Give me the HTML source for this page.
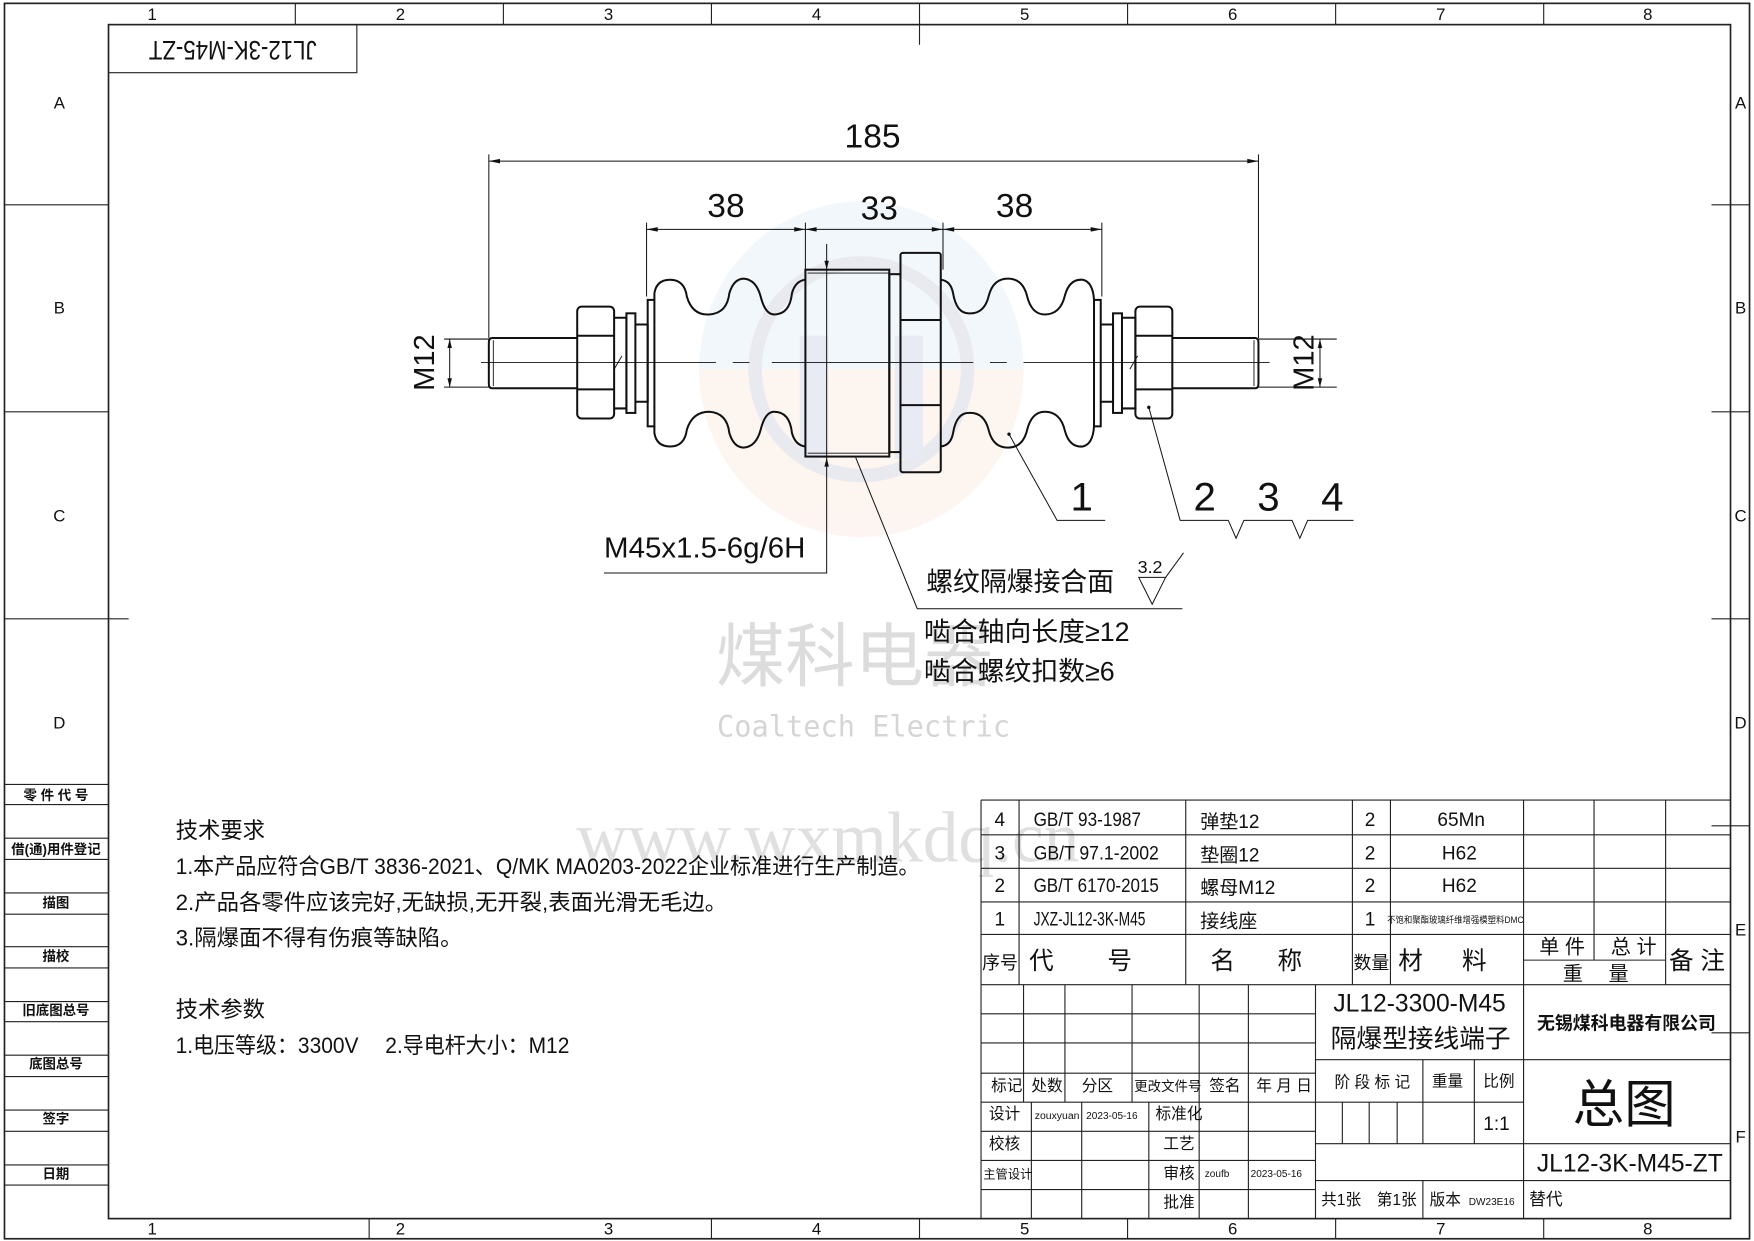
<!DOCTYPE html>
<html><head><meta charset="utf-8"><style>
html,body{margin:0;padding:0;background:#fff}
svg{display:block}
text{font-family:"Liberation Sans Narrow","Liberation Sans","Noto Sans CJK SC",sans-serif;fill:#111}
.t{font-family:"Liberation Sans Narrow","Liberation Sans","Noto Sans CJK SC",sans-serif}
</style></head><body>
<svg width="1754" height="1241" viewBox="0 0 1568 1109" preserveAspectRatio="none" xmlns="http://www.w3.org/2000/svg">
<rect width="1568" height="1109" fill="#fff"/>
<!-- watermark logo -->
<g opacity="0.22">
<path d="M625 330 A145 150 0 0 1 915 330 Z" fill="#c9dcef"/>
<path d="M625 330 A145 150 0 0 0 915 330 Z" fill="#f6d3bd"/>
<circle cx="770" cy="330" r="95" fill="none" stroke="#9aa3b8" stroke-width="12"/>
<rect x="715" y="300" width="25" height="110" fill="#9aa8cc"/><rect x="800" y="300" width="25" height="110" fill="#9aa8cc"/>
</g>
<text x="640" y="608" font-size="62" style="fill:#dcdcdc">煤科电器</text>
<text x="641" y="658" font-size="26" style="fill:#d5d5d5;font-family:'DejaVu Sans Mono',monospace" textLength="262" lengthAdjust="spacingAndGlyphs">Coaltech Electric</text>
<text x="515" y="770" font-size="64" style="fill:#e0e0e0;font-family:'Liberation Serif',serif" textLength="450" lengthAdjust="spacingAndGlyphs">www.wxmkdq.cn</text>

<g stroke="#222" fill="none" stroke-width="1">
<rect x="4" y="3" width="1560" height="1104" stroke-width="1.5"/>
<rect x="97" y="22" width="1450" height="1067" stroke-width="1.5"/>
<path d="M264 3V22M450 3V22M636 3V22M822 3V40M1008 3V22M1194 3V22M1380 3V22"/>
<path d="M330 1089V1107M636 1089V1107M822 1089V1107M1008 1089V1107M1194 1089V1107M1380 1089V1107"/>
<path d="M4 183H97M4 368H97M4 553H115M1530 183H1564M1530 368H1564M1530 553H1564M1530 738H1564M1530 923H1564"/>
<path d="M4 701H97M4 719H97M4 749H97M4 768H97M4 798H97M4 817H97M4 846H97M4 865H97M4 895H97M4 913H97M4 943H97M4 962H97M4 992H97M4 1011H97M4 1041H97M4 1059H97"/>
<path d="M97 65H319V22"/>
</g>
<g font-size="15" text-anchor="middle" class="t">
<text x="136" y="18">1</text><text x="358" y="18">2</text><text x="544" y="18">3</text><text x="730" y="18">4</text><text x="916" y="18">5</text><text x="1102" y="18">6</text><text x="1288" y="18">7</text><text x="1473" y="18">8</text>
<text x="136" y="1103">1</text><text x="358" y="1103">2</text><text x="544" y="1103">3</text><text x="730" y="1103">4</text><text x="916" y="1103">5</text><text x="1102" y="1103">6</text><text x="1288" y="1103">7</text><text x="1473" y="1103">8</text>
<text x="53" y="97">A</text><text x="53" y="280">B</text><text x="53" y="466">C</text><text x="53" y="651">D</text>
<text x="1556" y="97">A</text><text x="1556" y="280">B</text><text x="1556" y="466">C</text><text x="1556" y="651">D</text><text x="1556" y="836">E</text><text x="1556" y="1021">F</text>
</g>
<g font-size="12" text-anchor="middle" font-weight="bold">
<text x="50" y="715">零 件 代 号</text><text x="50" y="763">借(通)用件登记</text><text x="50" y="811">描图</text><text x="50" y="859">描校</text><text x="50" y="907">旧底图总号</text><text x="50" y="955">底图总号</text><text x="50" y="1004">签字</text><text x="50" y="1053">日期</text>
</g>
<text transform="translate(208,43) rotate(180)" font-size="24" text-anchor="middle" dominant-baseline="middle" textLength="150" lengthAdjust="spacingAndGlyphs">JL12-3K-M45-ZT</text>

<!-- drawing -->
<g stroke="#111" fill="none" stroke-width="0.9">
<path d="M437 138V302M1125 138V302M437 144H1125"/>
<path d="M578 199V265M720 199V241M843 199V241M985 199V265M578 205H985"/>
<path d="M397 303H437M397 346H437M402 303V346"/>
<path d="M1125 303H1195M1125 346H1195M1180 303V346"/>
<path d="M739 218V512H540"/>
<path d="M765 409L820 544H1057"/>
<path d="M1018 516H1042L1030 540ZM1042 516L1058 494"/>
<path d="M902 388L945 465H988"/>
<path d="M1027 364L1055 465H1098L1105 481L1112 465H1155L1162 481L1169 465H1210"/>
</g>
<g fill="#111">
<path d="M437 144l10-2v4zM1125 144l-10-2v4zM578 205l10-2v4zM720 205l-10-2v4zM720 205l10-2v4zM843 205l-10-2v4zM843 205l10-2v4zM985 205l-10-2v4z"/>
<path d="M402 303l-2 8h4zM402 346l-2-8h4zM1180 303l-2 8h4zM1180 346l-2-8h4z"/>
<path d="M739 241l-2-8h4zM739 409l-2 8h4z"/>
<circle cx="902" cy="388" r="1.5"/><circle cx="1027" cy="364" r="1.5"/>
</g>
<g stroke="#111" fill="none" stroke-width="1.8">
<path d="M516 302H440Q437 302 437 306V343Q437 347 440 347H516"/>
<path d="M441 304V345" stroke-width="0.8"/>
<rect x="516" y="274" width="33" height="100" rx="4"/>
<path d="M516 300H549M516 348H549"/>
<path d="M549 284H560V365H549"/>
<rect x="560" y="280" width="8" height="89"/>
<path d="M568 290H579V359H568"/>
<path d="M549 330L556 318" stroke-width="0.8"/>
<rect x="579" y="268" width="6" height="113"/>
<path d="M585 268V262Q587 250 599 250Q612 250 614 265Q619 282 634 281Q650 280 652 262Q656 249 665 249Q676 250 680 265Q684 281 692 281Q706 281 708 262Q711 251 720 250"/>
<path d="M585 381V387Q587 399 599 399Q612 399 614 384Q619 368 634 368Q650 369 652 387Q656 400 665 400Q676 399 680 384Q684 368 692 368Q706 368 708 387Q711 398 720 399"/>
<rect x="720" y="241" width="75" height="167"/>
<path d="M722 244H795M722 405H795" stroke-width="0.8"/>
<rect x="795" y="245" width="10" height="159"/>
<rect x="805" y="226" width="36" height="196" rx="2"/>
<path d="M805 286H841M805 362H841"/>
<path d="M841 250Q850 251 852 262Q855 280 866 280Q880 281 884 264Q888 249 901 249Q914 249 918 264Q922 281 934 281Q948 281 952 264Q956 249 968 250Q977 252 978 268"/>
<path d="M841 399Q850 398 852 387Q855 369 866 369Q880 368 884 385Q888 400 901 400Q914 400 918 385Q922 368 934 368Q948 368 952 385Q956 400 968 399Q977 397 978 381"/>
<rect x="978" y="268" width="6" height="113"/>
<path d="M984 290H995V359H984"/>
<rect x="995" y="280" width="8" height="89"/>
<path d="M1003 284H1015V365H1003"/>
<path d="M1010 330L1017 318" stroke-width="0.8"/>
<rect x="1015" y="274" width="33" height="100" rx="4"/>
<path d="M1015 300H1048M1015 348H1048"/>
<path d="M1048 302H1122Q1125 302 1125 306V343Q1125 347 1122 347H1048"/>
<path d="M1121 304V345" stroke-width="0.8"/>
</g>
<path d="M430 324H640M655 324H670M690 324H870M885 324H900M915 324H1135" stroke="#111" stroke-width="0.8" fill="none"/>
<g font-size="30" text-anchor="middle">
<text x="780" y="132">185</text>
<text x="649" y="194">38</text><text x="786" y="196">33</text><text x="907" y="194">38</text>
<text x="967" y="456" font-size="36">1</text>
<text x="1077" y="456" font-size="36">2</text><text x="1134" y="456" font-size="36">3</text><text x="1191" y="456" font-size="36">4</text>
</g>
<text transform="translate(388,324) rotate(-90)" font-size="26" text-anchor="middle">M12</text>
<text transform="translate(1174,324) rotate(-90)" font-size="26" text-anchor="middle">M12</text>
<text x="540" y="498" font-size="26" textLength="180" lengthAdjust="spacingAndGlyphs">M45x1.5-6g/6H</text>
<text x="828" y="528" font-size="24">螺纹隔爆接合面</text>
<text x="1017" y="512" font-size="16">3.2</text>
<text x="826" y="573" font-size="24">啮合轴向长度≥12</text>
<text x="826" y="608" font-size="24">啮合螺纹扣数≥6</text>

<g font-size="20">
<text x="157" y="749">技术要求</text>
<text x="157" y="781" textLength="665" lengthAdjust="spacingAndGlyphs">1.本产品应符合GB/T 3836-2021、Q/MK MA0203-2022企业标准进行生产制造。</text>
<text x="157" y="813">2.产品各零件应该完好,无缺损,无开裂,表面光滑无毛边。</text>
<text x="157" y="845">3.隔爆面不得有伤痕等缺陷。</text>
<text x="157" y="909">技术参数</text>
<text x="157" y="941" textLength="352" lengthAdjust="spacingAndGlyphs">1.电压等级：3300V　 2.导电杆大小：M12</text>
</g>

<g stroke="#222" fill="none" stroke-width="1">
<path d="M877 715H1547M877 746H1547M877 776H1547M877 806H1547M877 835H1547M877 880H1547M877 715V1089"/>
<path d="M911 715V880M1060 715V880M1209 715V880M1243 715V880M1362 715V880M1425 715V835M1489 715V880M1362 858H1489M1425 835V858"/>
<path d="M877 906H1176M877 932H1176M877 959H1176M877 985H1362M877 1011H1176M877 1037H1176M877 1063H1176"/>
<path d="M915 880V985M952 880V985M1012 880V985M1072 880V1089M1116 880V1089M1176 880V1089"/>
<path d="M922 985V1089M967 985V1089M1027 985V1089"/>
<path d="M1176 947H1547M1176 1055H1547M1362 880V1089M1176 1022H1547"/>
<path d="M1272 947V1022M1318 947V1022M1200 985V1022M1224 985V1022M1249 985V1022M1272 1055V1089"/>
</g>
<g font-size="17" class="t">
<text x="889" y="738">4</text><text x="924" y="738" textLength="96" lengthAdjust="spacingAndGlyphs">GB/T 93-1987</text><text x="1073" y="740">弹垫12</text><text x="1220" y="738">2</text><text x="1285" y="738">65Mn</text>
<text x="889" y="768">3</text><text x="924" y="768" textLength="112" lengthAdjust="spacingAndGlyphs">GB/T 97.1-2002</text><text x="1073" y="770">垫圈12</text><text x="1220" y="768">2</text><text x="1289" y="768">H62</text>
<text x="889" y="797">2</text><text x="924" y="797" textLength="112" lengthAdjust="spacingAndGlyphs">GB/T 6170-2015</text><text x="1073" y="799">螺母M12</text><text x="1220" y="797">2</text><text x="1289" y="797">H62</text>
<text x="889" y="827">1</text><text x="924" y="827" textLength="100" lengthAdjust="spacingAndGlyphs">JXZ-JL12-3K-M45</text><text x="1073" y="829">接线座</text><text x="1220" y="827">1</text>
<text x="1240" y="825" font-size="8" textLength="122" lengthAdjust="spacingAndGlyphs">不饱和聚酯玻璃纤维增强模塑料DMC</text>
</g>
<g font-size="22">
<text x="878" y="866" font-size="16" textLength="32" lengthAdjust="spacingAndGlyphs">序号</text><text x="920" y="866">代</text><text x="990" y="866">号</text>
<text x="1082" y="866">名</text><text x="1142" y="866">称</text>
<text x="1210" y="866" font-size="16" textLength="32" lengthAdjust="spacingAndGlyphs">数量</text><text x="1250" y="866">材</text><text x="1307" y="866">料</text>
<text x="1492" y="866">备 注</text>
</g>
<g font-size="18"><text x="1376" y="852">单 件</text><text x="1440" y="852">总 计</text><text x="1397" y="876">重　 量</text></g>
<text x="1269" y="904" font-size="22" text-anchor="middle">JL12-3300-M45</text>
<text x="1270" y="936" font-size="23" text-anchor="middle">隔爆型接线端子</text>
<text x="1454" y="920" font-size="16" text-anchor="middle" font-weight="bold">无锡煤科电器有限公司</text>
<text x="1452" y="1003" font-size="46" text-anchor="middle">总图</text>
<text x="1457" y="1047" font-size="22" text-anchor="middle">JL12-3K-M45-ZT</text>
<g font-size="14">
<text x="886" y="975">标记</text><text x="922" y="975">处数</text><text x="967" y="975">分区</text><text x="1014" y="975" font-size="12">更改文件号</text><text x="1081" y="975">签名</text><text x="1123" y="975">年 月 日</text>
<text x="884" y="1000">设计</text><text x="1033" y="1000">标准化</text>
<text x="884" y="1027">校核</text><text x="1040" y="1027">工艺</text>
<text x="879" y="1053" font-size="11">主管设计</text><text x="1040" y="1053">审核</text>
<text x="1040" y="1079">批准</text>
<text x="1193" y="972">阶 段 标 记</text><text x="1280" y="971">重量</text><text x="1326" y="971">比例</text>
<text x="1326" y="1010" font-size="17">1:1</text>
<text x="1181" y="1077" font-size="14">共1张　第1张</text><text x="1278" y="1077" font-size="14">版本</text><text x="1367" y="1077" font-size="15">替代</text>
</g>
<g font-size="9">
<text x="925" y="1000" textLength="40" lengthAdjust="spacingAndGlyphs">zouxyuan</text><text x="971" y="1000">2023-05-16</text>
<text x="1077" y="1052">zoufb</text><text x="1118" y="1052">2023-05-16</text>
<text x="1313" y="1077">DW23E16</text>
</g>
</svg>
</body></html>
